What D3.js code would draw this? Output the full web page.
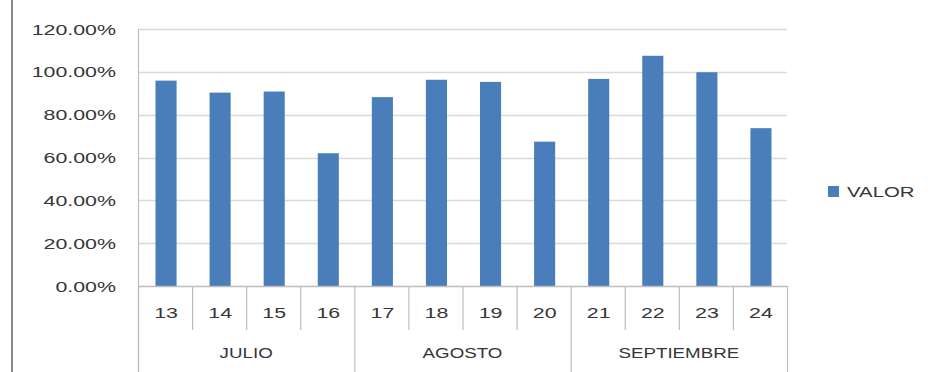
<!DOCTYPE html>
<html><head><meta charset="utf-8">
<script src="https://cdn.jsdelivr.net/npm/d3@7"></script>
<style>
html,body{margin:0;padding:0;background:#fff;}
svg{display:block;font-family:"Liberation Sans",Arial,sans-serif;}
</style></head>
<body>
<svg id="chart" width="934" height="372"></svg>
<script>
const days = ["13","14","15","16","17","18","19","20","21","22","23","24"];
const months = ["JULIO","AGOSTO","SEPTIEMBRE"];
const monthOfDay = ["JULIO","JULIO","JULIO","JULIO","AGOSTO","AGOSTO","AGOSTO","AGOSTO","SEPTIEMBRE","SEPTIEMBRE","SEPTIEMBRE","SEPTIEMBRE"];
const values = [0.959, 0.903, 0.908, 0.620, 0.882, 0.963, 0.953, 0.674, 0.967, 1.075, 0.998, 0.737];
const yTicks = [0, 0.2, 0.4, 0.6, 0.8, 1.0, 1.2];
const seriesName = "VALOR";

(function(){
const svg = d3.select("#chart");
const pLeft = 138, pRight = 787, pTop = 29, pBottom = 286;
const textColor = "#363636";
const sx = 1.38;

// outer frame line at left
svg.append("rect").attr("x",11).attr("y",0).attr("width",2).attr("height",372).attr("fill","#8c8c8c");

const x = d3.scaleBand().domain(days).range([pLeft,pRight]).paddingInner(0.61).paddingOuter(0.305);
const y = d3.scaleLinear().domain([0,1.2]).range([pBottom,pTop]);

// gridlines
svg.append("g").selectAll("line").data(yTicks.filter(d=>d>0)).join("line")
  .attr("x1",pLeft).attr("x2",pRight)
  .attr("y1",d=>Math.round(y(d))+0.5).attr("y2",d=>Math.round(y(d))+0.5)
  .attr("stroke","#d9d9d9").attr("stroke-width",1.5);

// y labels
const fmt = d3.format(".2%");
svg.append("g").selectAll("text").data(yTicks).join("text")
  .attr("transform",d=>`translate(116,${y(d)+5.5}) scale(${sx},1)`)
  .attr("text-anchor","end").attr("font-size",15.5).attr("fill",textColor)
  .text(d=>fmt(d));

// bars
svg.append("g").selectAll("rect").data(values).join("rect")
  .attr("x",(d,i)=>x(days[i])+1).attr("width",x.bandwidth())
  .attr("y",d=>y(d)).attr("height",d=>y(0)-y(d))
  .attr("fill","#4a7ebb");

// x axis baseline
svg.append("line").attr("x1",pLeft).attr("x2",pRight).attr("y1",pBottom+0.5).attr("y2",pBottom+0.5)
  .attr("stroke","#bdbdbd").attr("stroke-width",1.5);
// y axis line
svg.append("line").attr("x1",pLeft+0.5).attr("x2",pLeft+0.5).attr("y1",pTop).attr("y2",372)
  .attr("stroke","#bdbdbd").attr("stroke-width",1.2);

// day separators
const step = x.step();
const seps = d3.range(days.length+1);
svg.append("g").selectAll("line").data(seps).join("line")
  .attr("x1",i=>pLeft + i*step + 0.5).attr("x2",i=>pLeft + i*step + 0.5)
  .attr("y1",pBottom)
  .attr("y2",i=>(i===0||i===days.length||monthOfDay[i]!==monthOfDay[i-1])?372:330)
  .attr("stroke","#bdbdbd").attr("stroke-width",1.2);

// day labels
svg.append("g").selectAll("text").data(days).join("text")
  .attr("transform",d=>`translate(${x(d)+x.bandwidth()/2+1},${318}) scale(${sx},1)`)
  .attr("text-anchor","middle").attr("font-size",15.5).attr("fill",textColor)
  .text(d=>d);

// month labels
svg.append("g").selectAll("text").data(months).join("text")
  .attr("transform",m=>{
    const idx = monthOfDay.map((v,i)=>v===m?i:-1).filter(i=>i>=0);
    const cx = pLeft + (idx[0] + (idx[idx.length-1]+1))/2*step;
    return `translate(${cx},358) scale(1.25,1)`;
  })
  .attr("text-anchor","middle").attr("font-size",15).attr("fill",textColor)
  .text(m=>m);

// legend
const lg = svg.append("g");
lg.append("rect").attr("x",828).attr("y",186).attr("width",11).attr("height",11).attr("fill","#4a7ebb");
lg.append("text").attr("transform",`translate(847,197) scale(1.36,1)`)
  .attr("font-size",15).attr("fill",textColor).text(seriesName);
})();
</script>
</body></html>
